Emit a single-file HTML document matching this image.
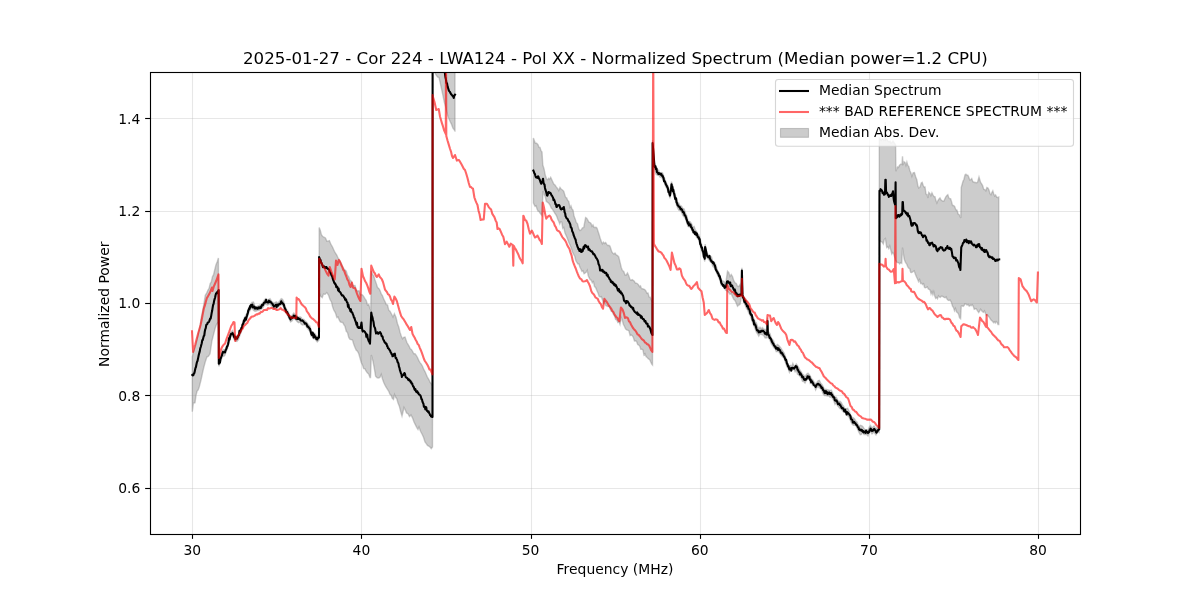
<!DOCTYPE html>
<html lang="en"><head><meta charset="utf-8"><title>Normalized Spectrum</title>
<style>html,body{margin:0;padding:0;background:#fff;}body{width:1200px;height:600px;overflow:hidden;}svg{display:block;}text{font-family:"DejaVu Sans", "Liberation Sans", sans-serif;fill:#000;}</style></head><body>
<svg width="1200" height="600" viewBox="0 0 1200 600">
<rect x="0" y="0" width="1200" height="600" fill="#ffffff"/>
<defs><clipPath id="ax"><rect x="150" y="72" width="930" height="462"/></clipPath></defs>
<g stroke="#b0b0b0" stroke-opacity="0.3" stroke-width="1.11">
<line x1="192.5" y1="72" x2="192.5" y2="534"/>
<line x1="361.5" y1="72" x2="361.5" y2="534"/>
<line x1="531.5" y1="72" x2="531.5" y2="534"/>
<line x1="700.5" y1="72" x2="700.5" y2="534"/>
<line x1="869.5" y1="72" x2="869.5" y2="534"/>
<line x1="1038.5" y1="72" x2="1038.5" y2="534"/>
<line x1="150" y1="118.5" x2="1080" y2="118.5"/>
<line x1="150" y1="211.5" x2="1080" y2="211.5"/>
<line x1="150" y1="303.5" x2="1080" y2="303.5"/>
<line x1="150" y1="395.5" x2="1080" y2="395.5"/>
<line x1="150" y1="488.5" x2="1080" y2="488.5"/>
</g>
<g clip-path="url(#ax)">
<g fill="#808080" fill-opacity="0.4" stroke="#808080" stroke-opacity="0.4" stroke-width="1.39" stroke-linejoin="miter">
<polygon points="192.30,357.00 193.48,351.65 194.65,348.84 195.82,345.15 197.00,340.00 198.50,332.54 200.00,326.00 201.33,317.24 202.67,310.81 204.00,303.30 205.30,295.30 206.65,293.08 208.00,290.00 209.10,288.32 210.20,283.57 211.30,282.00 212.43,276.84 213.57,274.64 214.70,270.00 216.00,264.70 217.20,261.78 218.40,258.00 218.80,361.15 219.40,359.90 220.95,356.16 222.50,350.40 223.75,349.47 225.00,349.90 226.25,346.83 227.50,343.40 229.05,336.18 230.60,332.40 232.50,330.40 234.40,334.90 235.65,335.45 236.90,336.15 238.45,334.16 240.00,329.90 241.50,326.99 243.00,321.40 244.30,317.82 245.60,315.63 246.90,313.40 248.75,307.40 250.32,304.68 251.90,302.40 253.45,302.11 255.00,306.15 256.25,307.18 257.50,306.08 258.75,305.64 260.00,304.90 261.50,304.48 263.00,302.40 264.30,300.26 265.60,298.65 267.50,299.90 268.75,299.45 270.00,298.65 271.50,301.20 273.00,302.40 274.12,303.16 275.25,302.31 276.38,301.84 277.50,303.00 278.75,302.05 280.00,300.42 281.25,298.65 282.50,299.35 283.75,301.80 285.00,306.15 286.50,309.56 288.00,311.15 289.30,314.49 290.60,316.80 292.18,315.25 293.75,313.00 295.00,314.28 296.25,315.40 297.50,316.32 298.75,317.48 300.00,316.80 301.25,317.41 302.50,319.73 303.75,319.40 305.32,321.11 306.90,322.40 308.45,324.62 310.00,326.15 311.25,331.15 312.50,333.22 313.75,333.00 315.00,333.65 316.15,335.58 317.30,336.80 319.00,334.90 319.20,227.50 320.30,230.34 321.40,234.70 322.50,236.25 323.97,237.21 325.43,237.98 326.90,241.25 328.15,241.18 329.40,240.60 330.95,244.40 332.50,247.00 333.60,249.59 334.70,251.91 335.80,253.55 336.90,255.33 338.00,258.00 339.17,259.39 340.33,261.88 341.50,263.74 342.67,266.92 343.83,268.64 345.00,270.00 346.25,271.20 347.50,275.22 348.75,276.82 350.00,280.10 351.25,281.25 352.50,284.65 353.75,285.75 355.00,285.58 356.25,289.74 357.50,291.00 358.97,290.85 360.43,294.85 361.90,294.50 363.35,296.00 364.80,298.43 366.25,300.50 367.50,305.00 368.75,304.50 370.00,308.75 370.80,310.00 371.30,271.00 372.53,274.13 373.77,276.12 375.00,280.00 376.25,283.38 377.50,287.50 378.75,288.37 380.00,290.50 381.25,293.97 382.50,295.82 383.75,299.16 385.00,301.50 386.25,304.62 387.50,304.92 388.75,310.19 390.00,311.25 391.50,314.00 393.00,317.00 394.40,313.75 395.95,317.34 397.50,323.75 398.75,327.00 400.00,332.15 401.25,336.01 402.50,338.75 403.75,337.35 405.00,337.00 406.90,342.50 408.02,344.45 409.14,346.32 410.26,348.80 411.38,349.48 412.50,351.25 413.75,353.81 415.00,353.66 416.25,355.38 417.50,357.50 418.75,360.40 420.00,362.64 421.25,364.12 422.50,366.25 423.75,369.41 425.00,371.54 426.25,374.56 427.50,377.42 428.75,379.33 430.00,382.11 431.25,383.75 432.50,386.00 432.80,20.00 455.00,20.00 455.00,20.00 455.00,131.00 454.90,131.00 454.40,130.00 452.93,128.07 451.47,124.15 450.00,121.25 448.00,116.50 446.80,112.00 445.60,106.64 444.40,102.50 442.82,94.95 441.25,87.50 440.12,82.47 439.00,77.50 437.50,77.00 436.25,75.13 435.00,73.00 432.80,55.00 432.50,447.00 431.25,448.58 430.00,447.00 428.75,446.07 427.50,445.43 426.25,443.59 425.00,442.00 423.50,437.23 422.00,434.00 420.50,431.26 419.00,427.00 418.00,429.50 416.67,427.36 415.33,424.67 414.00,422.00 412.50,417.82 411.00,415.00 409.50,416.50 408.00,413.67 406.50,413.00 405.25,409.85 404.00,407.50 402.00,416.00 400.67,411.50 399.33,406.19 398.00,403.00 396.83,398.74 395.67,397.28 394.50,394.50 393.50,399.50 392.31,398.40 391.12,395.25 389.94,394.22 388.75,391.25 387.50,389.37 386.25,387.40 385.00,385.26 383.75,382.50 382.50,379.03 381.25,374.40 380.00,377.32 378.75,378.00 377.18,377.79 375.60,376.25 374.30,368.33 373.00,361.25 371.30,355.00 370.50,377.50 370.00,377.50 368.67,374.07 367.33,372.79 366.00,371.00 364.83,368.65 363.67,368.62 362.50,365.00 361.25,362.50 360.00,358.02 358.75,353.75 357.50,351.17 356.25,350.27 355.00,347.50 353.75,344.18 352.50,340.00 351.25,339.64 350.00,339.28 348.75,337.50 347.50,332.51 346.25,331.29 345.00,326.25 343.84,324.55 342.69,322.44 341.53,322.37 340.37,321.94 339.21,319.91 338.06,317.01 336.90,317.50 335.32,312.52 333.75,310.00 332.62,306.87 331.50,302.00 330.00,299.50 328.50,295.00 326.75,292.50 325.12,294.35 323.50,294.00 322.25,297.50 320.50,296.00 319.30,293.00 319.00,340.10 317.30,342.00 316.15,340.51 315.00,338.85 313.75,338.79 312.50,336.68 311.25,336.35 310.00,331.35 308.45,329.77 306.90,327.60 305.32,325.13 303.75,324.60 302.50,325.03 301.25,324.17 300.00,322.00 298.75,322.75 297.50,321.90 296.25,320.60 295.00,319.17 293.75,318.20 292.18,320.83 290.60,322.00 289.30,319.18 288.00,316.35 286.50,313.45 285.00,311.35 283.75,307.00 282.50,305.58 281.25,303.85 280.00,306.00 278.75,305.97 277.50,308.20 276.38,308.83 275.25,307.88 274.12,309.06 273.00,307.60 271.50,305.96 270.00,303.85 268.75,304.50 267.50,305.10 265.60,303.85 264.30,305.17 263.00,307.60 261.50,309.01 260.00,310.10 258.75,310.26 257.50,310.46 256.25,311.05 255.00,311.35 253.45,310.25 251.90,307.60 250.32,310.08 248.75,312.60 246.90,318.60 245.60,320.68 244.30,323.04 243.00,326.60 241.50,331.19 240.00,335.10 238.45,339.61 236.90,341.35 235.65,341.03 234.40,340.10 232.50,335.60 230.60,337.60 229.05,342.41 227.50,348.60 226.25,351.25 225.00,355.10 223.75,356.40 222.50,355.60 220.95,360.97 219.40,365.10 218.80,366.35 218.60,322.00 217.43,323.25 216.25,325.00 215.00,328.75 213.45,334.93 211.90,341.00 210.00,353.75 208.45,356.25 206.90,357.00 205.32,361.82 203.75,367.50 202.38,373.50 201.00,380.00 199.30,386.70 198.20,389.78 197.10,391.13 196.00,395.30 195.00,402.70 193.30,403.30 192.30,411.70"/>
<polygon points="533.40,138.00 535.30,143.30 536.65,143.26 538.00,144.70 539.00,147.40 540.00,147.41 541.00,150.72 542.00,152.00 542.80,165.00 544.05,168.92 545.30,175.30 546.70,179.30 547.70,179.59 548.70,178.22 549.70,179.22 550.70,177.30 552.50,181.25 553.75,183.97 555.00,185.00 556.25,186.92 557.50,188.45 558.75,190.60 560.00,187.50 561.25,189.23 562.50,189.96 563.75,191.25 565.60,197.50 566.65,197.89 567.70,200.61 568.75,201.25 570.00,207.50 571.00,205.91 572.00,209.12 573.00,210.00 574.08,216.28 575.17,218.86 576.25,222.50 577.50,223.81 578.75,228.99 580.00,230.60 581.25,229.76 582.50,227.95 583.75,227.50 585.60,217.50 586.70,218.15 587.80,220.14 588.90,222.10 590.00,222.50 591.00,223.41 592.00,226.26 593.00,224.90 594.00,227.36 595.00,227.50 596.00,227.23 597.00,228.09 598.00,231.25 599.08,234.50 600.17,238.21 601.25,241.25 602.34,243.74 603.44,242.19 604.53,243.43 605.62,242.57 606.72,244.43 607.81,245.58 608.91,245.25 610.00,246.25 611.90,251.90 612.93,253.31 613.97,254.05 615.00,253.00 616.25,254.92 617.50,255.58 618.75,256.90 620.00,262.04 621.25,267.50 622.50,270.64 623.75,271.53 625.00,275.00 626.25,274.99 627.50,273.00 628.75,275.65 630.00,279.40 631.07,280.33 632.14,279.59 633.21,280.37 634.29,281.12 635.36,283.06 636.43,283.21 637.50,283.75 638.50,284.86 639.50,286.76 640.50,285.90 641.50,288.66 642.50,288.75 643.60,289.06 644.70,289.60 645.80,290.79 646.90,293.23 648.00,293.00 649.08,297.00 650.17,297.16 651.25,300.00 652.50,302.00 652.50,365.00 651.90,364.40 650.75,362.03 649.60,359.45 648.45,358.97 647.30,357.47 646.15,356.86 645.00,353.75 643.96,354.91 642.92,349.98 641.88,349.26 640.83,349.32 639.79,346.26 638.75,345.00 637.68,344.49 636.61,341.49 635.54,340.82 634.46,340.96 633.39,337.48 632.32,335.73 631.25,335.00 630.11,335.45 628.97,331.00 627.83,330.19 626.68,329.93 625.54,328.77 624.40,326.25 623.35,324.34 622.30,319.98 621.25,317.50 620.00,324.40 618.91,321.56 617.81,322.39 616.72,319.95 615.62,319.57 614.53,315.99 613.44,314.38 612.34,311.96 611.25,311.25 610.16,308.97 609.06,306.08 607.97,306.49 606.88,306.12 605.78,305.44 604.69,301.59 603.59,303.41 602.50,300.00 601.38,296.70 600.25,297.03 599.12,296.33 598.00,293.00 596.80,290.36 595.60,287.50 594.51,286.58 593.42,281.68 592.34,282.75 591.25,280.00 590.25,279.82 589.25,277.95 588.25,275.74 587.25,270.30 586.25,272.00 585.16,272.98 584.08,273.69 582.99,270.78 581.90,271.25 580.90,268.95 579.90,267.24 578.90,264.00 577.90,264.06 576.90,262.50 575.80,260.53 574.70,256.02 573.60,254.27 572.50,252.00 571.25,248.10 570.00,245.00 568.75,242.28 567.50,238.75 566.25,235.70 565.00,232.94 563.75,227.50 562.75,228.33 561.75,222.07 560.75,221.77 559.75,223.87 558.75,221.25 557.75,219.24 556.75,216.38 555.75,214.49 554.75,213.23 553.75,211.25 552.50,209.33 551.25,208.05 550.00,205.00 548.75,203.34 547.50,202.24 546.25,201.25 545.17,196.28 544.08,194.57 543.00,191.00 541.90,215.60 540.00,213.00 539.00,211.45 538.00,211.10 537.00,208.70 536.00,205.80 535.00,206.25 533.40,203.00"/>
<polygon points="652.60,140.20 654.40,162.80 655.95,166.78 657.50,169.70 658.75,170.33 660.00,174.84 661.25,172.56 662.50,172.80 664.05,177.08 665.60,180.95 666.80,183.91 668.00,185.95 670.00,192.80 671.50,181.60 672.62,185.12 673.75,189.70 675.00,193.12 676.25,198.59 677.50,202.20 678.75,202.99 680.00,205.55 681.25,205.95 682.70,208.23 684.15,209.08 685.60,213.45 686.80,215.82 688.00,220.95 690.00,221.60 691.50,223.50 693.00,227.20 694.15,226.58 695.30,230.04 696.45,231.28 697.60,234.02 698.75,234.50 700.00,237.99 701.25,243.06 702.50,247.70 703.62,252.43 704.75,255.95 705.10,244.20 706.90,252.50 708.45,255.00 710.00,255.95 711.47,256.96 712.93,261.71 714.40,262.20 715.85,264.88 717.30,270.12 718.75,272.20 720.00,275.64 721.25,279.70 722.70,280.93 724.15,281.73 725.60,284.70 727.50,271.25 728.75,272.46 730.00,276.43 731.25,274.60 732.50,276.60 733.75,280.62 735.00,282.82 736.25,283.43 737.50,286.25 738.75,286.55 740.00,284.50 741.50,291.20 741.90,267.80 742.50,291.60 743.00,294.70 744.12,298.14 745.25,298.36 746.38,300.11 747.50,302.65 748.75,306.74 750.00,308.86 751.25,311.40 752.50,316.96 753.75,318.53 755.00,321.40 756.25,322.69 757.50,326.35 758.75,328.90 760.00,327.24 761.25,328.86 762.50,327.65 763.75,329.44 765.00,329.32 766.25,330.80 767.20,330.40 767.50,317.40 767.90,330.40 768.75,332.00 770.00,333.57 771.25,337.94 772.50,339.50 773.75,341.19 775.00,344.95 776.25,345.75 777.38,344.45 778.50,345.20 779.83,346.76 781.17,348.33 782.50,350.75 784.05,352.79 785.60,357.00 786.87,362.99 788.13,365.03 789.40,366.40 790.54,365.34 791.68,366.44 792.83,363.31 793.97,366.12 795.11,365.54 796.25,364.00 797.50,365.65 798.75,367.63 800.00,370.26 801.25,372.00 802.50,374.15 803.75,374.96 805.00,377.00 806.50,374.24 808.00,373.25 809.12,374.54 810.25,375.93 811.38,378.77 812.50,379.50 814.05,381.85 815.60,384.00 816.80,382.63 818.00,380.75 819.30,380.26 820.60,382.86 821.90,384.50 823.15,386.60 824.40,389.50 825.85,389.13 827.30,389.72 828.75,390.00 830.00,390.56 831.25,390.14 832.50,392.60 833.75,395.32 835.00,397.03 836.25,397.25 837.50,399.50 838.75,401.55 840.00,401.29 841.25,402.33 842.50,404.82 843.75,406.40 845.06,409.20 846.38,408.61 847.69,408.26 849.00,411.00 851.00,416.00 852.20,417.47 853.40,417.82 854.60,418.87 855.80,421.19 857.00,422.00 859.00,426.50 860.25,425.19 861.50,425.64 862.75,426.49 864.00,428.50 865.33,430.17 866.67,429.63 868.00,430.00 869.25,427.14 870.50,425.50 872.00,428.00 874.00,426.00 876.00,429.00 877.60,427.07 879.20,426.50 879.20,432.50 877.60,431.99 876.00,435.00 874.00,432.00 872.00,434.00 870.50,431.50 869.25,433.09 868.00,436.00 866.67,434.55 865.33,434.61 864.00,434.50 862.75,432.04 861.50,434.33 860.25,434.76 859.00,432.50 857.00,428.00 855.80,425.64 854.60,424.97 853.40,425.28 852.20,424.25 851.00,422.00 849.00,417.00 847.69,415.83 846.38,414.20 845.06,411.79 843.75,412.40 842.50,410.91 841.25,409.04 840.00,408.72 838.75,406.98 837.50,405.50 836.25,402.78 835.00,404.29 833.75,400.47 832.50,398.60 831.25,397.09 830.00,397.24 828.75,396.00 827.30,395.97 825.85,395.51 824.40,395.50 823.15,393.96 821.90,390.50 820.60,388.33 819.30,387.99 818.00,386.75 816.80,387.66 815.60,390.00 814.05,384.86 812.50,385.50 811.38,381.64 810.25,383.20 809.12,378.32 808.00,379.25 806.50,380.09 805.00,383.00 803.75,381.60 802.50,381.47 801.25,378.00 800.00,376.36 798.75,374.97 797.50,374.36 796.25,370.00 795.11,371.75 793.97,369.47 792.83,369.19 791.68,370.97 790.54,369.85 789.40,372.40 788.13,368.62 786.87,366.48 785.60,363.00 784.05,358.34 782.50,356.75 781.17,355.23 779.83,353.53 778.50,351.20 777.38,351.45 776.25,351.75 775.00,348.42 773.75,347.80 772.50,345.50 771.25,343.83 770.00,340.30 768.75,338.00 767.90,337.60 767.50,324.60 767.20,337.60 766.25,338.00 765.00,337.79 763.75,335.43 762.50,334.85 761.25,334.45 760.00,334.02 758.75,336.10 757.50,333.79 756.25,331.88 755.00,328.60 753.75,325.57 752.50,322.28 751.25,318.60 750.00,315.08 748.75,313.03 747.50,309.85 746.38,308.26 745.25,305.46 744.12,302.19 743.00,300.30 742.50,297.20 741.90,273.40 741.50,296.80 740.00,304.50 738.75,304.98 737.50,306.25 736.25,303.25 735.00,300.51 733.75,299.27 732.50,296.60 731.25,293.69 730.00,294.31 728.75,292.42 727.50,291.25 725.60,290.30 724.15,287.99 722.70,285.64 721.25,285.30 720.00,280.59 718.75,277.80 717.30,274.53 715.85,270.96 714.40,267.80 712.93,266.65 711.47,262.47 710.00,261.55 708.45,259.06 706.90,258.10 705.10,249.80 704.75,261.55 703.62,256.12 702.50,253.30 701.25,249.18 700.00,244.77 698.75,240.10 697.60,238.42 696.45,237.05 695.30,234.10 694.15,233.25 693.00,232.80 691.50,229.74 690.00,227.20 688.00,226.55 686.80,222.87 685.60,219.05 684.15,216.97 682.70,215.13 681.25,211.55 680.00,210.50 678.75,210.06 677.50,207.80 676.25,204.02 675.00,199.37 673.75,195.30 672.62,190.73 671.50,187.20 670.00,198.40 668.00,191.55 666.80,188.48 665.60,186.55 664.05,181.60 662.50,178.40 661.25,177.36 660.00,177.18 658.75,174.97 657.50,175.30 655.95,174.02 654.40,168.40 652.60,145.80"/>
<polygon points="879.30,138.00 880.20,139.10 881.10,140.34 882.00,139.00 882.97,138.91 883.93,140.38 884.90,140.00 885.30,122.00 885.70,140.00 886.85,139.04 888.00,141.00 889.00,141.76 890.00,140.96 891.00,143.00 892.00,142.18 893.00,141.00 894.30,142.91 895.60,145.00 895.90,171.25 897.50,167.00 898.40,167.45 899.30,165.60 900.20,164.47 901.10,164.00 902.00,164.50 902.50,156.25 903.00,165.00 904.00,161.79 905.00,162.50 905.94,165.44 906.88,162.14 907.81,165.40 908.75,166.25 909.80,170.50 910.85,172.76 911.90,176.25 913.15,172.75 914.40,172.50 915.65,176.81 916.90,180.00 917.83,185.80 918.75,188.00 920.00,187.16 921.25,183.00 922.19,182.30 923.12,185.22 924.06,187.03 925.00,187.00 926.00,194.07 927.00,194.48 928.00,198.00 928.75,192.50 929.81,193.50 930.88,195.73 931.94,192.75 933.00,195.00 933.98,196.60 934.95,196.70 935.92,200.61 936.90,203.00 937.93,200.47 938.97,199.04 940.00,198.00 940.94,199.88 941.88,200.57 942.81,201.06 943.75,201.25 944.80,199.04 945.85,196.77 946.90,195.60 947.83,194.77 948.75,197.63 949.67,198.68 950.60,198.75 951.55,201.65 952.50,205.60 953.60,205.47 954.70,206.61 955.80,209.69 956.90,210.00 958.15,214.07 959.40,215.00 960.80,218.00 961.25,187.50 963.00,181.25 964.00,179.28 965.00,175.00 965.94,174.19 966.88,175.19 967.81,175.28 968.75,177.00 969.75,179.93 970.75,179.70 971.75,178.60 972.75,181.60 973.75,182.00 974.69,182.50 975.62,182.54 976.56,182.79 977.50,182.50 979.00,177.00 980.60,182.50 981.65,183.87 982.70,185.84 983.75,189.40 984.80,189.55 985.85,190.76 986.90,187.50 987.93,188.06 988.97,190.05 990.00,193.75 990.93,194.74 991.87,192.45 992.80,190.81 993.73,193.98 994.67,196.07 995.60,195.00 996.65,197.08 997.70,197.40 998.75,197.00 998.75,324.50 998.00,324.50 997.08,322.20 996.17,321.55 995.25,323.00 994.33,321.74 993.42,322.69 992.50,321.25 991.50,320.49 990.50,319.27 989.50,317.42 988.50,316.39 987.50,315.00 986.50,315.58 985.50,313.43 984.50,310.92 983.50,312.28 982.50,311.62 981.50,310.50 980.58,309.24 979.67,311.03 978.75,312.50 977.50,310.87 976.25,308.75 975.25,308.94 974.25,309.27 973.25,306.27 972.25,304.85 971.25,305.60 970.21,305.16 969.17,306.23 968.12,304.41 967.08,305.02 966.04,304.01 965.00,303.75 964.06,305.65 963.12,306.48 962.19,305.82 961.25,306.25 960.60,318.75 959.57,317.87 958.53,313.99 957.50,312.50 956.50,311.97 955.50,308.48 954.50,310.74 953.50,307.50 952.50,306.25 951.25,301.93 950.00,300.00 949.03,300.56 948.06,300.21 947.08,299.15 946.11,296.96 945.14,297.77 944.17,297.46 943.19,296.66 942.22,296.25 941.25,296.25 940.31,297.31 939.38,296.97 938.44,295.89 937.50,298.75 936.58,297.51 935.66,298.36 934.74,295.99 933.82,291.86 932.90,294.68 931.98,291.69 931.06,293.96 930.14,290.07 929.22,289.40 928.30,289.00 927.36,286.93 926.41,287.42 925.47,287.74 924.53,287.38 923.59,283.71 922.64,284.54 921.70,283.30 920.65,283.53 919.60,279.60 918.55,281.57 917.50,279.00 916.40,276.73 915.30,273.99 914.20,270.80 912.95,271.79 911.70,272.50 910.70,272.30 909.70,268.49 908.70,268.09 907.70,266.57 906.70,264.00 905.45,262.37 904.20,259.00 902.50,247.50 901.70,263.30 900.65,262.64 899.60,263.87 898.55,262.63 897.50,262.50 896.50,261.94 895.50,260.00 893.75,254.00 892.77,252.49 891.78,253.96 890.80,250.00 889.77,246.05 888.75,248.56 887.73,246.64 886.70,247.50 885.40,238.50 884.35,239.28 883.30,244.00 882.05,241.88 880.80,241.70 879.30,240.00"/>
</g>
<g fill="none" stroke="#000000" stroke-width="2.08" stroke-linejoin="round" stroke-linecap="square">
<polyline points="192.30,375.00 192.83,375.47 193.35,375.09 193.88,373.55 194.40,373.00 194.92,370.43 195.43,368.18 195.95,367.02 196.47,364.23 196.98,361.92 197.50,361.00 198.12,358.15 198.75,355.00 199.25,353.10 199.75,351.41 200.25,348.31 200.75,347.00 201.25,345.00 201.75,343.15 202.25,340.27 202.75,340.00 203.25,338.04 203.75,336.00 204.25,335.59 204.75,331.75 205.25,329.29 205.75,328.12 206.25,325.00 206.73,324.45 207.22,324.29 207.70,322.64 208.18,322.39 208.67,322.30 209.15,321.36 209.63,320.24 210.12,318.63 210.60,318.75 211.10,316.33 211.60,313.31 212.10,311.04 212.60,307.91 213.10,305.00 213.60,303.82 214.10,300.96 214.60,299.15 215.10,297.50 215.60,295.00 216.12,293.35 216.63,293.03 217.15,292.12 217.67,293.15 218.18,290.76 218.70,290.00 218.80,363.75 219.40,362.50 219.92,362.67 220.43,358.84 220.95,358.05 221.47,356.28 221.98,355.21 222.50,353.00 223.00,351.85 223.50,352.49 224.00,352.14 224.50,351.79 225.00,352.50 225.50,350.57 226.00,349.52 226.50,348.38 227.00,346.62 227.50,346.00 228.02,344.48 228.53,341.92 229.05,338.10 229.57,339.56 230.08,336.54 230.60,335.00 231.07,333.94 231.55,334.20 232.03,333.67 232.50,333.00 232.97,334.16 233.45,334.61 233.93,336.52 234.40,337.50 234.90,336.60 235.40,339.08 235.90,337.30 236.40,338.35 236.90,338.75 237.42,337.72 237.93,336.83 238.45,335.44 238.97,334.95 239.48,330.82 240.00,332.50 240.50,330.91 241.00,329.45 241.50,327.83 242.00,327.88 242.50,324.59 243.00,324.00 243.49,322.84 243.97,320.37 244.46,321.11 244.95,318.68 245.44,317.72 245.93,319.68 246.41,317.43 246.90,316.00 247.36,314.39 247.82,313.03 248.29,310.31 248.75,310.00 249.20,308.39 249.65,308.79 250.10,306.15 250.55,307.25 251.00,305.01 251.45,305.71 251.90,305.00 252.42,304.68 252.93,307.48 253.45,307.55 253.97,307.01 254.48,306.59 255.00,308.75 255.45,307.94 255.91,308.38 256.36,307.55 256.82,308.41 257.27,308.84 257.73,307.93 258.18,307.53 258.64,308.34 259.09,307.40 259.55,308.16 260.00,307.50 260.50,306.74 261.00,307.80 261.50,305.94 262.00,304.93 262.50,305.39 263.00,305.00 263.52,303.67 264.04,302.69 264.56,302.56 265.08,302.47 265.60,301.25 266.08,299.82 266.55,301.74 267.02,301.98 267.50,302.50 268.00,302.04 268.50,302.52 269.00,300.66 269.50,301.91 270.00,301.25 270.50,301.61 271.00,302.49 271.50,302.86 272.00,303.41 272.50,303.88 273.00,305.00 273.45,305.28 273.90,306.63 274.35,305.90 274.80,305.80 275.25,305.64 275.70,304.91 276.15,305.80 276.60,306.98 277.05,304.49 277.50,305.60 277.97,305.61 278.44,305.21 278.91,304.11 279.38,303.95 279.84,303.87 280.31,303.96 280.78,302.72 281.25,301.25 281.75,303.08 282.25,302.70 282.75,303.71 283.25,303.85 283.75,304.40 284.38,306.74 285.00,308.75 285.50,309.18 286.00,310.88 286.50,312.30 287.00,311.92 287.50,313.06 288.00,313.75 288.52,315.31 289.04,315.98 289.56,317.81 290.08,318.43 290.60,319.40 291.12,317.84 291.65,317.31 292.18,318.02 292.70,317.31 293.23,317.04 293.75,315.60 294.25,316.24 294.75,316.68 295.25,315.82 295.75,318.55 296.25,318.00 296.72,317.45 297.19,319.11 297.66,317.63 298.12,318.17 298.59,318.97 299.06,318.70 299.53,318.67 300.00,319.40 300.47,320.38 300.94,320.54 301.41,320.65 301.88,320.42 302.34,320.38 302.81,320.97 303.28,321.26 303.75,322.00 304.27,322.46 304.80,323.56 305.32,323.35 305.85,323.38 306.38,324.02 306.90,325.00 307.42,326.58 307.93,326.36 308.45,327.04 308.97,327.70 309.48,328.56 310.00,328.75 310.62,331.34 311.25,333.75 311.72,334.94 312.19,334.98 312.66,332.54 313.12,334.89 313.59,337.53 314.06,334.65 314.53,336.03 315.00,336.25 315.46,337.69 315.92,337.51 316.38,339.14 316.84,337.81 317.30,339.40 317.87,337.82 318.43,337.99 319.00,337.50 319.10,257.00 319.59,258.30 320.07,260.39 320.56,259.99 321.04,262.66 321.53,262.95 322.01,264.18 322.50,265.60 322.99,267.29 323.48,266.25 323.97,266.37 324.46,267.21 324.94,267.78 325.43,267.18 325.92,267.91 326.41,267.00 326.90,268.00 327.36,268.35 327.82,268.92 328.29,268.88 328.75,269.37 329.21,269.90 329.68,271.57 330.14,272.25 330.60,273.00 331.12,274.13 331.65,275.80 332.18,276.12 332.70,278.44 333.23,280.05 333.75,281.25 334.25,282.96 334.75,282.92 335.25,284.40 335.75,284.34 336.25,287.00 336.72,287.25 337.19,286.60 337.66,287.81 338.12,290.33 338.59,288.47 339.06,291.35 339.53,291.62 340.00,292.00 340.47,292.41 340.93,293.63 341.40,294.32 341.87,295.35 342.33,295.04 342.80,295.41 343.27,296.04 343.73,296.39 344.20,297.74 344.67,297.83 345.13,299.86 345.60,299.70 346.08,299.43 346.55,301.14 347.02,302.38 347.50,302.66 347.98,306.78 348.45,304.68 348.92,307.41 349.40,308.75 349.90,309.01 350.40,311.29 350.90,309.21 351.40,312.15 351.90,312.00 352.42,312.78 352.93,314.55 353.45,315.50 353.97,317.81 354.48,317.81 355.00,320.00 355.50,321.11 356.00,322.60 356.50,324.88 357.00,322.86 357.50,326.98 358.00,327.00 358.52,327.91 359.04,327.04 359.56,327.83 360.08,327.45 360.60,328.00 361.50,322.50 362.25,330.00 362.71,331.57 363.17,330.82 363.62,330.84 364.08,331.16 364.54,331.52 365.00,332.00 365.45,332.94 365.91,333.48 366.36,336.75 366.82,334.84 367.27,334.64 367.73,338.32 368.18,339.37 368.64,340.82 369.09,341.46 369.55,342.57 370.00,343.75 370.62,328.37 371.25,312.50 371.83,315.73 372.42,317.16 373.00,320.00 373.52,321.97 374.04,325.96 374.56,327.15 375.08,328.26 375.60,331.25 376.08,333.49 376.56,332.83 377.04,332.31 377.52,332.37 378.00,333.75 378.52,333.82 379.04,332.83 379.56,332.51 380.08,332.18 380.60,333.00 381.08,333.77 381.56,336.13 382.04,336.12 382.52,336.51 383.00,338.75 383.45,340.00 383.90,340.30 384.35,341.63 384.80,342.65 385.25,342.37 385.70,343.14 386.15,343.97 386.60,343.90 387.05,346.00 387.50,346.25 387.95,348.19 388.41,348.20 388.86,348.80 389.32,349.69 389.77,350.21 390.23,351.10 390.68,352.31 391.14,352.89 391.59,354.10 392.05,354.16 392.50,356.25 392.98,356.05 393.45,355.36 393.92,354.00 394.40,354.40 394.85,353.69 395.30,356.42 395.75,358.27 396.20,357.90 396.65,359.10 397.10,360.05 397.55,361.98 398.00,362.50 398.49,363.63 398.98,366.86 399.46,367.71 399.95,370.44 400.44,371.59 400.92,373.20 401.41,374.08 401.90,377.00 402.40,375.68 402.90,375.20 403.40,375.09 403.90,373.98 404.40,373.00 404.86,373.60 405.32,375.56 405.79,377.12 406.25,377.50 406.70,377.80 407.16,377.99 407.61,378.43 408.07,379.74 408.52,379.95 408.98,379.26 409.43,380.64 409.89,380.41 410.34,380.62 410.80,382.52 411.25,382.00 411.72,383.62 412.19,383.46 412.66,385.06 413.12,386.38 413.59,386.52 414.06,387.91 414.53,389.50 415.00,390.00 415.45,389.11 415.91,391.15 416.36,391.92 416.82,392.20 417.27,391.27 417.73,392.97 418.18,392.53 418.64,394.06 419.09,394.54 419.55,394.71 420.00,395.00 420.49,395.68 420.98,397.06 421.47,399.39 421.96,399.33 422.44,401.62 422.93,402.88 423.42,403.54 423.91,406.80 424.40,406.25 424.87,407.03 425.33,409.32 425.80,406.93 426.27,407.48 426.73,410.63 427.20,411.10 427.67,411.12 428.13,412.04 428.60,411.39 429.07,413.07 429.53,413.50 430.00,415.00 430.50,415.23 431.00,416.46 431.50,416.24 432.00,416.88 432.50,417.00 432.60,40.00 438.00,30.00 444.10,50.00 444.50,70.00 445.40,77.00 445.93,79.38 446.47,83.10 447.00,83.30 447.65,86.82 448.30,88.70 448.87,90.64 449.43,91.39 450.00,92.00 450.57,93.19 451.13,94.31 451.70,94.70 452.20,95.52 452.70,95.83 453.20,96.53 453.70,98.00 454.35,95.51 455.00,94.70"/>
<polyline points="533.40,170.60 533.88,171.78 534.35,173.25 534.83,173.70 535.30,175.46 535.77,177.04 536.25,177.50 536.83,177.39 537.42,177.84 538.00,176.25 538.46,176.66 538.93,178.44 539.39,178.94 539.86,179.95 540.32,181.47 540.79,182.84 541.25,183.75 541.83,182.40 542.42,180.80 543.00,178.75 543.50,182.74 544.00,184.02 544.50,184.49 545.00,188.00 545.48,189.98 545.95,191.18 546.42,193.09 546.90,195.30 547.40,195.68 547.90,193.93 548.40,192.04 548.90,193.13 549.40,192.30 549.85,192.73 550.30,192.72 550.75,193.56 551.20,194.43 551.65,195.53 552.10,195.88 552.55,196.90 553.00,197.50 553.49,200.06 553.98,199.27 554.46,200.46 554.95,202.06 555.44,204.26 555.92,204.10 556.41,206.89 556.90,207.00 557.36,205.52 557.83,205.23 558.29,205.46 558.75,205.00 559.25,205.23 559.75,206.30 560.25,207.98 560.75,209.06 561.25,209.40 561.75,209.01 562.25,208.23 562.75,208.97 563.25,207.78 563.75,207.00 564.21,209.14 564.67,212.54 565.14,213.26 565.60,216.25 566.12,217.21 566.65,218.41 567.17,218.74 567.70,219.15 568.23,220.68 568.75,221.25 569.25,222.09 569.75,223.30 570.25,224.23 570.75,227.23 571.25,227.50 571.72,228.49 572.19,231.18 572.66,232.00 573.12,232.93 573.59,235.03 574.06,236.14 574.53,237.44 575.00,238.75 575.50,239.18 576.00,241.72 576.50,243.80 577.00,244.95 577.50,246.79 578.00,247.50 578.46,249.26 578.93,249.09 579.39,250.91 579.86,248.94 580.32,250.53 580.79,249.46 581.25,252.00 581.73,251.87 582.22,250.58 582.70,251.03 583.18,248.75 583.67,246.76 584.15,248.49 584.63,245.78 585.12,245.09 585.60,245.30 586.09,245.69 586.58,246.82 587.07,246.49 587.56,247.53 588.04,246.50 588.53,249.73 589.02,248.91 589.51,249.57 590.00,250.00 590.49,250.93 590.98,251.10 591.47,251.62 591.96,251.26 592.44,252.36 592.93,253.26 593.42,254.20 593.91,253.82 594.40,254.40 594.92,255.40 595.43,256.52 595.95,257.63 596.47,258.29 596.98,258.88 597.50,260.00 598.02,261.18 598.53,263.98 599.05,264.92 599.57,266.28 600.08,270.44 600.60,269.40 601.07,270.36 601.54,270.64 602.01,270.41 602.48,269.84 602.95,271.75 603.42,271.13 603.90,271.54 604.37,272.57 604.84,272.86 605.31,272.58 605.78,272.71 606.25,273.00 606.72,275.37 607.19,275.03 607.66,274.63 608.12,276.76 608.59,277.11 609.06,277.82 609.53,279.11 610.00,279.40 610.45,280.09 610.91,281.92 611.36,281.08 611.82,281.63 612.27,282.82 612.73,282.03 613.18,283.72 613.64,283.43 614.09,284.87 614.55,283.85 615.00,285.00 615.47,285.94 615.94,285.05 616.41,286.54 616.88,287.51 617.34,288.50 617.81,290.23 618.28,290.75 618.75,289.00 619.22,290.06 619.69,292.19 620.16,292.20 620.62,291.48 621.09,293.49 621.56,292.91 622.03,293.73 622.50,295.00 623.00,295.38 623.50,297.45 624.00,300.65 624.50,300.56 625.00,301.60 625.50,301.45 626.00,303.34 626.50,301.04 627.00,301.21 627.50,301.25 628.00,301.86 628.50,303.19 629.00,303.45 629.50,305.58 630.00,305.30 630.45,305.69 630.91,306.94 631.36,307.30 631.82,307.09 632.27,307.61 632.73,308.92 633.18,307.85 633.64,310.18 634.09,310.84 634.55,311.50 635.00,312.00 635.45,312.27 635.91,312.92 636.36,312.72 636.82,313.79 637.27,312.42 637.73,314.65 638.18,313.63 638.64,314.98 639.09,314.60 639.55,314.95 640.00,315.60 640.45,315.52 640.91,317.63 641.36,316.33 641.82,316.75 642.27,318.33 642.73,318.88 643.18,319.23 643.64,318.99 644.09,319.74 644.55,321.41 645.00,321.25 645.49,321.12 645.98,322.99 646.47,323.71 646.96,323.91 647.44,323.54 647.93,326.51 648.42,325.82 648.91,326.51 649.40,327.00 649.86,328.07 650.32,328.99 650.78,330.85 651.24,332.55 651.70,333.75 652.50,335.00 652.60,143.00 653.20,149.65 653.80,157.21 654.40,165.60 654.92,167.25 655.43,166.18 655.95,168.94 656.47,168.51 656.98,172.18 657.50,172.50 657.95,172.93 658.41,174.08 658.86,172.97 659.32,173.93 659.77,173.69 660.23,173.64 660.68,174.58 661.14,173.81 661.59,174.77 662.05,175.84 662.50,175.60 663.02,177.00 663.53,178.01 664.05,181.32 664.57,181.08 665.08,181.95 665.60,183.75 666.08,184.87 666.56,185.36 667.04,186.46 667.52,187.49 668.00,188.75 668.50,191.98 669.00,192.19 669.50,194.02 670.00,195.60 670.50,192.37 671.00,189.65 671.50,184.40 671.95,185.85 672.40,187.17 672.85,191.12 673.30,189.79 673.75,192.50 674.22,193.79 674.69,196.13 675.16,198.90 675.62,198.04 676.09,198.49 676.56,202.37 677.03,203.05 677.50,205.00 677.97,205.18 678.44,206.28 678.91,206.57 679.38,207.09 679.84,207.02 680.31,208.78 680.78,209.41 681.25,208.75 681.73,209.61 682.22,210.08 682.70,211.80 683.18,212.44 683.67,212.14 684.15,213.40 684.63,215.37 685.12,215.34 685.60,216.25 686.08,217.50 686.56,219.41 687.04,220.72 687.52,222.25 688.00,223.75 688.50,222.46 689.00,225.39 689.50,224.39 690.00,224.40 690.50,224.68 691.00,227.00 691.50,227.43 692.00,228.15 692.50,229.85 693.00,230.00 693.48,232.30 693.96,231.63 694.44,233.01 694.92,234.05 695.40,232.28 695.88,233.26 696.35,234.84 696.83,233.59 697.31,235.27 697.79,237.05 698.27,237.47 698.75,237.30 699.22,239.38 699.69,239.18 700.16,244.01 700.62,244.31 701.09,246.13 701.56,247.57 702.03,247.56 702.50,250.50 702.95,251.07 703.40,252.89 703.85,256.89 704.30,256.48 704.75,258.75 705.10,247.00 705.70,249.58 706.30,252.34 706.90,255.30 707.42,256.30 707.93,256.83 708.45,257.23 708.97,256.65 709.48,255.82 710.00,258.75 710.49,259.57 710.98,260.34 711.47,261.76 711.96,261.45 712.44,261.76 712.93,263.22 713.42,262.45 713.91,263.52 714.40,265.00 714.88,265.36 715.37,267.44 715.85,269.90 716.33,270.02 716.82,271.41 717.30,271.85 717.78,272.99 718.27,273.55 718.75,275.00 719.25,276.29 719.75,276.18 720.25,278.60 720.75,280.03 721.25,282.50 721.73,283.68 722.22,284.11 722.70,285.02 723.18,285.89 723.67,285.05 724.15,286.62 724.63,287.86 725.12,286.94 725.60,287.50 726.08,286.75 726.55,284.25 727.02,281.60 727.50,281.25 727.95,281.83 728.41,281.61 728.86,282.79 729.32,282.85 729.77,283.92 730.23,282.57 730.68,286.22 731.14,286.16 731.59,285.36 732.05,285.43 732.50,286.60 732.95,287.48 733.41,288.86 733.86,289.55 734.32,290.41 734.77,289.51 735.23,291.02 735.68,293.75 736.14,293.80 736.59,293.35 737.05,294.72 737.50,296.25 738.00,294.81 738.50,294.78 739.00,296.09 739.50,294.68 740.00,294.50 740.50,295.18 741.00,294.31 741.50,294.00 741.90,270.60 742.50,294.40 743.00,297.50 743.45,297.23 743.90,298.76 744.35,301.87 744.80,300.42 745.25,301.08 745.70,303.69 746.15,303.69 746.60,304.50 747.05,306.49 747.50,306.25 747.97,306.00 748.44,308.76 748.91,308.73 749.38,309.55 749.84,311.10 750.31,313.69 750.78,313.80 751.25,315.00 751.72,314.85 752.19,316.65 752.66,319.92 753.12,320.78 753.59,320.41 754.06,324.36 754.53,323.47 755.00,325.00 755.47,325.02 755.94,326.77 756.41,328.53 756.88,329.98 757.34,330.48 757.81,330.30 758.28,331.13 758.75,332.50 759.22,331.23 759.69,332.13 760.16,331.57 760.62,332.06 761.09,330.75 761.56,331.17 762.03,330.73 762.50,331.25 762.97,330.72 763.44,331.13 763.91,331.65 764.38,331.92 764.84,333.66 765.31,333.69 765.78,332.99 766.25,334.40 766.73,334.59 767.20,334.00 767.50,321.00 767.90,334.00 768.75,335.00 769.22,336.16 769.69,337.99 770.16,337.66 770.62,338.59 771.09,339.16 771.56,340.72 772.03,341.94 772.50,342.50 772.97,343.42 773.44,343.87 773.91,345.28 774.38,345.70 774.84,346.60 775.31,346.47 775.78,348.13 776.25,348.75 776.70,347.88 777.15,347.88 777.60,348.54 778.05,349.93 778.50,348.20 779.00,349.66 779.50,349.59 780.00,350.14 780.50,351.73 781.00,352.73 781.50,353.30 782.00,352.91 782.50,353.75 783.02,354.94 783.53,355.58 784.05,356.66 784.57,357.26 785.08,358.77 785.60,360.00 786.08,359.52 786.55,361.43 787.02,363.85 787.50,363.99 787.98,366.29 788.45,366.06 788.92,367.94 789.40,369.40 789.86,369.54 790.31,368.28 790.77,368.37 791.23,370.66 791.68,368.08 792.14,367.90 792.60,367.84 793.05,368.15 793.51,367.94 793.97,368.55 794.42,368.25 794.88,367.17 795.34,367.05 795.79,366.07 796.25,367.00 796.70,366.58 797.16,367.89 797.61,369.74 798.07,370.00 798.52,371.25 798.98,372.09 799.43,371.96 799.89,374.43 800.34,373.14 800.80,373.79 801.25,375.00 801.72,375.30 802.19,377.12 802.66,376.77 803.12,376.93 803.59,378.46 804.06,379.62 804.53,379.29 805.00,380.00 805.50,379.18 806.00,379.58 806.50,378.88 807.00,378.22 807.50,376.29 808.00,376.25 808.45,377.09 808.90,377.78 809.35,376.75 809.80,379.67 810.25,379.45 810.70,379.74 811.15,382.36 811.60,381.36 812.05,381.32 812.50,382.50 813.02,383.20 813.53,384.43 814.05,385.37 814.57,385.46 815.08,385.59 815.60,387.00 816.08,385.82 816.56,385.07 817.04,384.24 817.52,384.38 818.00,383.75 818.49,383.84 818.98,384.73 819.46,384.52 819.95,384.96 820.44,385.95 820.92,386.30 821.41,387.91 821.90,387.50 822.40,387.81 822.90,389.66 823.40,390.47 823.90,390.50 824.40,392.50 824.88,393.11 825.37,392.74 825.85,391.06 826.33,393.18 826.82,393.50 827.30,392.22 827.78,394.19 828.27,393.06 828.75,393.00 829.22,392.44 829.69,394.08 830.16,393.70 830.62,393.28 831.09,392.98 831.56,395.14 832.03,394.71 832.50,395.60 832.95,396.72 833.41,397.15 833.86,397.08 834.32,397.70 834.77,400.09 835.23,400.67 835.68,400.57 836.14,400.35 836.59,400.49 837.05,401.58 837.50,402.50 837.98,404.30 838.46,403.91 838.94,403.87 839.42,403.69 839.90,405.28 840.38,405.01 840.87,406.23 841.35,407.31 841.83,408.10 842.31,407.91 842.79,408.08 843.27,409.04 843.75,409.40 844.23,411.20 844.70,410.52 845.18,409.59 845.66,412.26 846.14,411.68 846.61,414.57 847.09,411.97 847.57,412.67 848.05,412.94 848.52,413.87 849.00,414.00 849.50,414.81 850.00,415.37 850.50,416.28 851.00,419.00 851.46,419.37 851.92,419.53 852.38,419.94 852.85,422.46 853.31,421.91 853.77,422.60 854.23,421.85 854.69,422.92 855.15,422.99 855.62,423.46 856.08,424.65 856.54,425.00 857.00,425.00 857.50,426.36 858.00,427.36 858.50,427.28 859.00,429.50 859.45,429.12 859.91,430.15 860.36,429.77 860.82,429.63 861.27,430.68 861.73,429.89 862.18,430.26 862.64,431.63 863.09,430.86 863.55,432.41 864.00,431.50 864.50,432.09 865.00,432.49 865.50,432.92 866.00,430.60 866.50,432.38 867.00,431.64 867.50,432.46 868.00,433.00 868.50,432.02 869.00,432.15 869.50,430.27 870.00,430.65 870.50,428.50 871.00,428.93 871.50,430.12 872.00,431.00 872.50,430.57 873.00,430.72 873.50,429.46 874.00,429.00 874.50,429.28 875.00,430.25 875.50,430.18 876.00,432.00 876.46,432.60 876.91,431.85 877.37,431.25 877.83,430.78 878.29,429.75 878.74,429.55 879.20,429.50 879.50,190.70 880.05,190.97 880.60,189.16 881.15,189.82 881.70,190.30 882.16,191.23 882.62,193.17 883.08,192.94 883.54,192.58 884.00,194.70 884.50,194.59 885.00,194.00 885.35,179.70 885.75,179.70 886.10,193.00 886.70,192.25 887.30,193.30 887.80,194.97 888.30,194.61 888.80,196.89 889.30,196.30 889.80,196.13 890.30,195.38 890.80,194.97 891.30,196.00 891.87,194.16 892.43,193.20 893.00,191.30 893.50,197.04 894.00,201.00 894.60,203.20 895.20,205.00 895.60,182.30 895.80,218.30 896.37,217.06 896.93,217.31 897.50,216.25 897.97,214.99 898.43,216.26 898.90,215.14 899.37,216.64 899.83,216.08 900.30,215.42 900.77,214.20 901.23,215.20 901.70,214.60 902.20,214.00 902.55,202.00 902.90,202.00 903.30,210.00 903.87,210.84 904.43,210.72 905.00,211.70 905.47,211.69 905.93,213.56 906.40,212.77 906.87,213.85 907.33,215.02 907.80,213.32 908.27,216.23 908.73,216.10 909.20,215.80 909.70,217.31 910.20,219.09 910.70,220.88 911.20,224.50 911.70,225.80 912.20,223.31 912.70,225.38 913.20,224.25 913.70,223.05 914.20,223.00 914.70,223.02 915.20,223.52 915.70,224.03 916.20,225.27 916.70,225.00 917.23,226.87 917.77,230.82 918.30,232.50 918.85,233.19 919.40,232.21 919.95,232.81 920.50,232.30 921.00,232.77 921.50,234.09 922.00,235.30 922.50,235.80 923.00,237.21 923.50,235.68 924.00,235.57 924.50,235.66 925.00,235.60 925.50,236.70 926.00,237.26 926.50,240.71 927.00,240.07 927.50,241.33 928.00,243.00 928.46,242.47 928.92,243.52 929.39,245.23 929.85,245.28 930.31,243.74 930.78,243.26 931.24,242.98 931.70,243.00 932.17,242.71 932.64,244.49 933.11,244.33 933.59,246.43 934.06,245.12 934.53,245.03 935.00,246.25 935.50,245.87 936.00,246.91 936.50,249.71 937.00,250.51 937.50,251.25 938.02,249.67 938.53,248.68 939.05,249.34 939.57,248.15 940.08,247.88 940.60,247.00 941.12,247.59 941.65,247.61 942.17,247.49 942.70,249.50 943.23,250.07 943.75,250.60 944.27,250.22 944.80,250.28 945.33,249.75 945.85,248.16 946.38,248.46 946.90,247.50 947.38,246.00 947.87,248.29 948.35,247.89 948.83,248.83 949.32,248.94 949.80,247.62 950.28,248.38 950.77,249.46 951.25,248.75 951.88,252.09 952.50,256.25 952.95,256.76 953.41,256.70 953.86,258.06 954.32,258.29 954.77,257.90 955.23,257.90 955.68,257.75 956.14,260.53 956.59,260.00 957.05,260.27 957.50,261.25 957.98,262.31 958.47,263.47 958.95,266.14 959.43,267.56 959.92,266.85 960.40,270.00 961.25,247.50 961.77,246.23 962.30,245.08 962.83,243.51 963.35,242.58 963.88,242.52 964.40,240.00 964.87,240.41 965.33,241.24 965.80,241.27 966.27,239.52 966.73,242.18 967.20,241.16 967.67,240.95 968.13,241.98 968.60,243.20 969.07,241.07 969.53,241.32 970.00,242.00 970.46,242.61 970.92,241.32 971.38,242.16 971.84,243.38 972.30,244.24 972.76,244.42 973.22,244.98 973.68,245.50 974.14,244.67 974.60,245.07 975.06,245.43 975.52,245.76 975.98,247.19 976.44,247.33 976.90,247.00 977.36,244.79 977.83,246.07 978.29,244.25 978.75,244.40 979.20,244.18 979.66,246.64 980.11,247.28 980.57,247.79 981.02,248.04 981.48,249.53 981.93,247.89 982.39,250.03 982.84,249.49 983.30,250.17 983.75,251.25 984.20,249.75 984.65,251.92 985.10,251.86 985.55,250.93 986.00,250.00 986.46,250.49 986.92,252.01 987.38,252.00 987.83,253.54 988.29,255.83 988.75,255.60 989.20,257.13 989.66,256.70 990.11,257.07 990.57,256.66 991.02,257.32 991.48,257.20 991.93,257.99 992.39,257.42 992.84,258.96 993.30,258.30 993.75,258.75 994.25,259.29 994.75,259.40 995.25,261.05 995.75,260.94 996.25,260.60 996.74,259.80 997.23,259.49 997.73,260.45 998.22,259.89 998.71,259.43 999.20,259.40"/>
</g>
<polyline points="192.00,331.25 193.10,351.90 194.17,347.94 195.24,344.44 196.31,340.27 197.39,336.39 198.46,332.27 199.53,328.75 200.60,325.00 201.65,320.08 202.70,314.36 203.75,308.75 204.80,305.63 205.85,301.70 206.90,298.00 207.93,296.34 208.97,294.42 210.00,292.50 211.90,287.50 212.50,291.00 213.75,286.63 215.00,283.75 216.17,281.02 217.33,277.74 218.50,274.40 218.80,358.00 220.03,353.60 221.25,348.75 222.50,346.32 223.75,344.63 225.00,343.75 226.00,340.43 227.00,337.71 228.00,335.00 229.08,332.14 230.17,328.98 231.25,326.00 232.38,324.23 233.50,322.00 234.50,322.50 235.20,341.00 236.60,338.21 238.00,336.00 239.15,334.14 240.30,332.18 241.45,329.70 242.60,328.77 243.75,326.00 245.00,325.13 246.25,323.75 247.25,322.94 248.25,320.77 249.25,319.37 250.25,318.20 251.25,317.00 252.29,316.52 253.33,316.42 254.38,315.81 255.42,315.07 256.46,314.40 257.50,314.40 258.57,313.54 259.64,313.69 260.71,312.15 261.79,312.00 262.86,311.45 263.93,309.96 265.00,310.00 266.04,309.69 267.08,309.92 268.12,308.09 269.17,308.52 270.21,308.29 271.25,308.00 272.29,307.97 273.33,308.89 274.38,308.97 275.42,308.67 276.46,310.04 277.50,310.00 278.53,309.63 279.57,309.09 280.60,308.00 281.70,309.46 282.80,309.79 283.90,310.49 285.00,311.25 286.04,311.79 287.08,313.78 288.12,314.35 289.17,315.55 290.21,316.31 291.25,318.00 292.50,317.56 293.75,317.76 295.00,318.00 296.30,318.00 296.60,297.50 297.62,299.33 298.64,299.09 299.66,300.59 300.69,302.61 301.71,304.40 302.73,305.26 303.75,306.25 304.79,307.06 305.83,308.45 306.88,311.41 307.92,312.59 308.96,314.08 310.00,316.25 311.04,317.58 312.09,318.53 313.13,319.00 314.17,319.93 315.21,320.91 316.26,322.32 317.30,322.50 318.90,327.00 319.20,258.75 320.30,261.11 321.40,263.15 322.50,265.00 323.53,267.11 324.57,268.03 325.60,270.60 327.05,273.68 328.50,275.60 329.75,267.00 331.25,271.25 332.42,274.40 333.58,276.92 334.75,279.40 336.00,260.60 337.50,265.00 338.75,260.00 340.00,261.61 341.25,265.00 342.25,266.96 343.25,269.88 344.25,270.93 345.25,273.92 346.25,276.25 347.34,279.40 348.43,281.03 349.51,285.04 350.60,287.00 351.90,282.50 353.00,287.50 354.00,288.00 355.00,288.00 356.00,290.68 357.00,293.65 358.00,296.25 359.20,298.92 360.40,301.00 361.50,268.75 363.00,276.25 364.08,278.55 365.17,281.27 366.25,283.00 367.25,285.39 368.25,288.19 369.25,291.53 370.25,293.75 371.25,265.60 372.50,268.81 373.75,272.00 374.80,273.27 375.85,275.76 376.90,277.00 378.75,274.40 379.81,276.96 380.88,278.00 381.94,279.48 383.00,282.00 384.00,285.69 385.00,289.50 386.00,290.83 387.00,292.17 388.00,294.33 389.00,294.64 390.00,296.50 391.00,299.57 392.00,300.93 393.00,304.00 394.40,296.50 395.65,298.52 396.90,301.25 397.99,305.28 399.07,309.26 400.16,312.89 401.25,316.25 402.50,317.98 403.75,319.40 404.79,321.23 405.83,323.00 406.88,324.96 407.92,326.39 408.96,328.36 410.00,330.00 411.25,327.00 412.50,333.75 413.54,335.88 414.58,337.50 415.62,339.72 416.67,341.50 417.71,344.03 418.75,345.00 419.79,347.85 420.83,350.22 421.88,352.96 422.92,355.83 423.96,358.96 425.00,361.25 426.25,362.97 427.50,365.00 428.50,367.05 429.50,369.59 430.50,369.49 431.50,372.01 432.50,374.40 432.60,95.00 433.00,97.00 434.50,102.00 436.25,110.00 437.50,109.61 438.75,109.00 440.00,116.50 441.00,120.05 442.00,123.36 443.00,126.43 444.00,130.00 445.80,134.00 446.00,40.00 446.30,136.00 447.53,140.54 448.77,144.63 450.00,148.75 451.00,151.60 452.00,156.01 453.00,158.00 454.00,156.66 455.00,155.00 456.90,160.60 457.95,160.05 459.00,160.00 460.17,162.04 461.33,164.07 462.50,166.25 463.75,168.72 465.00,170.02 466.25,173.75 467.50,177.95 468.75,183.04 470.00,187.00 471.00,187.06 472.00,188.14 473.00,188.75 474.40,197.50 475.43,200.43 476.47,202.89 477.50,205.00 478.53,210.67 479.57,214.23 480.60,220.00 481.65,219.64 482.70,219.45 483.75,219.40 485.00,203.75 486.90,203.75 487.93,205.61 488.97,207.41 490.00,208.50 491.10,209.59 492.20,213.59 493.30,215.40 494.43,217.12 495.57,220.44 496.70,222.50 497.50,229.00 498.55,228.33 499.60,229.00 500.83,231.65 502.07,234.67 503.30,236.70 505.00,244.30 506.70,241.70 508.00,244.13 509.30,246.70 510.70,243.70 511.70,244.44 512.70,245.00 513.30,265.70 513.70,245.70 514.85,248.06 516.00,249.70 517.12,252.03 518.23,254.19 519.35,257.19 520.47,259.24 521.58,260.90 522.70,263.30 523.30,215.80 523.75,216.25 525.00,219.99 526.25,220.73 527.50,223.75 528.75,229.16 530.00,233.75 531.90,230.60 532.93,232.78 533.97,235.26 535.00,237.50 536.25,236.87 537.50,235.60 538.60,237.80 539.70,240.09 540.80,241.21 541.90,244.00 542.75,202.50 543.92,207.24 545.08,213.61 546.25,218.75 547.30,217.27 548.35,216.19 549.40,215.60 550.49,216.66 551.58,219.62 552.66,221.11 553.75,222.50 554.80,225.66 555.85,227.08 556.90,230.00 557.93,230.83 558.97,231.15 560.00,232.50 561.25,234.93 562.50,237.38 563.75,238.75 565.00,240.22 566.25,242.50 567.30,245.29 568.35,247.11 569.40,248.75 570.49,252.42 571.58,255.36 572.66,260.63 573.75,263.75 574.75,266.21 575.75,268.48 576.75,271.43 577.75,273.93 578.75,276.25 580.00,278.59 581.25,279.12 582.50,281.25 583.60,281.45 584.70,281.29 585.80,280.97 586.90,280.00 587.93,282.00 588.97,283.83 590.00,286.25 591.25,291.00 592.32,292.92 593.39,293.98 594.46,295.45 595.54,297.50 596.61,298.20 597.68,298.75 598.75,301.25 599.81,302.95 600.88,304.17 601.94,307.24 603.00,308.75 604.40,298.75 605.54,300.56 606.68,301.81 607.83,303.75 608.97,305.79 610.11,307.12 611.25,308.75 612.27,310.91 613.29,311.85 614.31,313.91 615.33,315.67 616.34,317.29 617.36,317.82 618.38,320.08 619.40,321.25 620.90,307.50 622.50,309.40 623.75,312.86 625.00,318.00 626.00,317.26 627.00,317.50 628.00,318.37 629.00,321.48 630.00,322.20 631.00,324.49 632.00,326.16 633.00,328.00 634.15,329.39 635.30,330.53 636.45,332.31 637.60,334.41 638.75,335.00 639.79,336.27 640.83,337.74 641.88,339.20 642.92,339.91 643.96,340.68 645.00,342.50 646.00,342.88 647.00,344.25 648.00,344.40 649.10,345.53 650.20,347.88 651.30,350.48 652.40,351.90 653.20,40.00 653.90,243.75 655.10,246.19 656.30,247.92 657.50,250.00 658.50,251.24 659.50,251.83 660.50,252.11 661.50,252.82 662.50,254.40 663.50,255.73 664.50,258.06 665.50,259.01 666.50,260.47 667.50,262.50 668.53,264.65 669.57,266.81 670.60,270.00 671.90,252.50 673.15,257.70 674.40,263.00 675.65,265.67 676.90,269.40 678.13,269.56 679.37,268.34 680.60,269.40 681.90,275.60 682.99,277.79 684.08,279.39 685.16,280.84 686.25,283.75 687.25,285.13 688.25,285.73 689.25,285.90 690.25,287.56 691.25,289.00 692.38,287.73 693.51,285.99 694.64,285.15 695.77,283.74 696.90,282.00 698.00,287.50 699.17,289.05 700.33,290.15 701.50,291.25 702.62,297.48 703.75,302.50 704.75,315.00 706.50,313.50 707.62,312.05 708.75,310.00 710.00,313.12 711.25,314.90 712.50,318.75 713.50,319.40 714.50,319.84 715.50,319.37 716.50,319.54 717.50,320.00 718.60,322.44 719.70,322.33 720.80,324.90 721.90,326.25 722.90,328.69 723.90,328.53 724.90,330.61 725.90,332.50 726.90,333.00 727.25,285.00 728.75,288.75 729.84,289.63 730.94,290.88 732.03,291.97 733.12,292.09 734.22,293.40 735.31,294.51 736.41,295.68 737.50,296.25 738.75,296.02 740.00,295.73 741.25,295.60 741.70,295.00 741.90,278.75 742.20,296.00 743.26,296.74 744.32,298.24 745.38,300.00 746.44,300.85 747.50,302.00 748.54,303.37 749.58,305.12 750.62,308.45 751.67,309.51 752.71,311.04 753.75,312.50 754.75,312.58 755.75,315.28 756.75,316.47 757.75,318.26 758.75,318.75 759.79,319.48 760.83,319.80 761.88,320.61 762.92,320.04 763.96,321.92 765.00,322.00 766.90,324.40 767.50,315.00 768.75,315.45 770.00,315.60 771.25,321.25 772.50,319.31 773.75,318.00 774.80,320.93 775.85,323.48 776.90,325.00 778.10,322.00 779.15,323.62 780.20,326.20 781.25,328.75 782.25,330.13 783.25,331.33 784.25,332.32 785.25,333.31 786.25,335.00 787.30,339.29 788.35,342.13 789.40,345.00 790.60,340.00 791.70,339.78 792.80,340.02 793.90,341.70 795.00,341.25 796.25,343.36 797.50,345.40 798.75,346.25 799.79,348.49 800.83,349.61 801.88,351.99 802.92,352.78 803.96,355.29 805.00,357.50 806.15,358.31 807.30,359.40 808.45,359.67 809.60,360.78 810.75,361.87 811.90,362.50 812.99,363.79 814.08,365.04 815.16,365.97 816.25,367.00 817.30,367.19 818.35,368.02 819.40,368.00 820.49,370.08 821.58,371.75 822.66,373.91 823.75,376.25 824.79,377.29 825.83,378.28 826.88,379.45 827.92,380.42 828.96,381.54 830.00,382.50 831.10,383.38 832.20,383.81 833.30,385.50 834.40,386.25 835.52,387.57 836.64,388.15 837.76,388.71 838.88,389.85 840.00,390.50 841.00,390.97 842.00,391.45 843.00,393.23 844.00,393.68 845.00,395.00 846.00,396.83 847.00,397.51 848.00,398.32 849.00,401.00 850.50,406.00 851.62,406.91 852.75,409.46 853.88,409.95 855.00,411.50 856.00,411.78 857.00,412.96 858.00,414.43 859.00,415.32 860.00,416.00 861.00,416.70 862.00,417.92 863.00,418.19 864.00,418.50 865.00,418.66 866.00,419.10 867.00,419.74 868.00,419.60 869.00,419.79 870.00,419.50 871.00,419.64 872.00,420.68 873.00,421.70 874.00,422.00 875.12,423.12 876.25,424.98 877.38,426.02 878.50,427.00 879.20,428.00 879.30,263.75 880.37,264.58 881.43,264.49 882.50,265.00 883.85,266.65 885.20,266.00 885.60,258.75 886.00,266.50 886.70,267.50 887.73,269.11 888.75,269.50 889.77,270.69 890.80,271.70 892.27,271.52 893.75,269.00 895.00,283.30 895.40,206.00 895.80,283.00 896.70,282.50 897.70,282.10 898.70,282.39 899.70,282.19 900.70,281.50 901.70,281.25 902.20,281.00 902.50,268.75 902.90,281.00 904.20,281.25 905.45,282.60 906.70,285.00 907.73,286.08 908.75,287.16 909.77,288.51 910.80,289.00 911.25,291.25 912.62,291.88 914.00,291.80 915.17,293.88 916.33,296.32 917.50,298.00 918.57,298.96 919.64,299.52 920.71,300.17 921.79,300.75 922.86,301.88 923.93,301.81 925.00,303.00 926.00,304.85 927.00,307.27 928.00,309.40 929.40,308.00 930.41,308.47 931.42,310.05 932.44,310.47 933.45,312.19 934.46,313.88 935.48,315.00 936.49,315.85 937.50,317.00 938.75,315.90 940.00,315.00 941.00,315.24 942.00,317.58 943.00,317.87 944.00,319.01 945.00,319.40 946.25,318.79 947.50,318.88 948.75,318.75 950.00,319.60 951.25,322.43 952.50,323.75 953.51,325.83 954.52,326.21 955.54,328.70 956.55,330.66 957.56,331.24 958.58,332.87 959.59,334.86 960.60,337.00 961.25,326.25 962.30,325.35 963.35,324.39 964.40,324.40 965.52,324.78 966.64,325.25 967.76,325.80 968.88,326.20 970.00,326.25 971.00,327.43 972.00,327.77 973.00,327.16 974.00,328.02 975.00,328.75 976.00,330.36 977.00,332.43 978.00,335.00 979.00,326.21 980.00,317.50 981.04,319.09 982.08,320.89 983.12,321.54 984.17,323.28 985.21,325.41 986.25,327.00 986.60,315.00 987.00,327.00 988.00,328.17 989.00,329.38 990.00,330.75 991.00,331.70 992.00,333.30 993.06,334.82 994.12,335.86 995.18,336.86 996.24,337.80 997.30,339.30 998.42,340.55 999.53,340.74 1000.65,342.86 1001.77,344.65 1002.88,345.29 1004.00,347.30 1005.10,347.29 1006.20,347.17 1007.30,347.00 1008.47,347.96 1009.65,350.04 1010.83,351.58 1012.00,353.30 1013.07,354.62 1014.13,355.81 1015.20,356.63 1016.27,357.38 1017.33,358.82 1018.40,360.00 1018.80,278.00 1020.60,279.40 1022.50,286.25 1023.50,287.47 1024.50,289.08 1025.50,290.13 1026.50,290.92 1027.50,292.50 1028.75,294.81 1030.00,298.17 1031.25,301.25 1032.50,299.99 1033.75,299.40 1034.80,299.93 1035.85,301.41 1036.90,302.50 1037.90,272.50" fill="none" stroke="#ff0000" stroke-opacity="0.6" stroke-width="2.08" stroke-linejoin="round" stroke-linecap="square"/>
</g>
<rect x="150.5" y="72.5" width="930" height="462" fill="none" stroke="#000" stroke-width="1.11"/>
<g stroke="#000" stroke-width="1.11">
<line x1="192.5" y1="534" x2="192.5" y2="538.86"/>
<line x1="361.5" y1="534" x2="361.5" y2="538.86"/>
<line x1="531.5" y1="534" x2="531.5" y2="538.86"/>
<line x1="700.5" y1="534" x2="700.5" y2="538.86"/>
<line x1="869.5" y1="534" x2="869.5" y2="538.86"/>
<line x1="1038.5" y1="534" x2="1038.5" y2="538.86"/>
<line x1="145.14" y1="118.5" x2="150" y2="118.5"/>
<line x1="145.14" y1="211.5" x2="150" y2="211.5"/>
<line x1="145.14" y1="303.5" x2="150" y2="303.5"/>
<line x1="145.14" y1="395.5" x2="150" y2="395.5"/>
<line x1="145.14" y1="488.5" x2="150" y2="488.5"/>
</g>
<g font-size="13.89px">
<text x="192.27" y="554.9" text-anchor="middle">30</text>
<text x="361.43" y="554.9" text-anchor="middle">40</text>
<text x="530.59" y="554.9" text-anchor="middle">50</text>
<text x="699.75" y="554.9" text-anchor="middle">60</text>
<text x="868.91" y="554.9" text-anchor="middle">70</text>
<text x="1038.07" y="554.9" text-anchor="middle">80</text>
<text x="140.28" y="124" text-anchor="end">1.4</text>
<text x="140.28" y="216" text-anchor="end">1.2</text>
<text x="140.28" y="308" text-anchor="end">1.0</text>
<text x="140.28" y="401" text-anchor="end">0.8</text>
<text x="140.28" y="493" text-anchor="end">0.6</text>
<text x="615" y="574" text-anchor="middle" textLength="116.76">Frequency (MHz)</text>
<text transform="translate(109.4,304.2) rotate(-90)" text-anchor="middle" textLength="125.38">Normalized Power</text>
</g>
<text x="615.4" y="64.2" font-size="16.67px" text-anchor="middle" textLength="744.8">2025-01-27 - Cor 224 - LWA124 - Pol XX - Normalized Spectrum (Median power=1.2 CPU)</text>
<rect x="775.5" y="79.5" width="298" height="66.8" rx="2.78" ry="2.78" fill="#ffffff" fill-opacity="0.8" stroke="#cccccc" stroke-opacity="0.8" stroke-width="1.1"/>
<line x1="780.04" y1="91" x2="807.96" y2="91" stroke="#000" stroke-width="2.08" stroke-linecap="square"/>
<line x1="780.04" y1="112" x2="807.96" y2="112" stroke="#ff0000" stroke-opacity="0.6" stroke-width="2.08" stroke-linecap="square"/>
<rect x="780.5" y="128.5" width="28" height="8.8" fill="#808080" fill-opacity="0.4" stroke="#808080" stroke-opacity="0.4" stroke-width="1.1"/>
<g font-size="13.89px">
<text x="818.9" y="95" textLength="122.7">Median Spectrum</text>
<text x="818.9" y="116" textLength="248.5">*** BAD REFERENCE SPECTRUM ***</text>
<text x="818.9" y="137" textLength="120.5">Median Abs. Dev.</text>
</g>
</svg></body></html>
